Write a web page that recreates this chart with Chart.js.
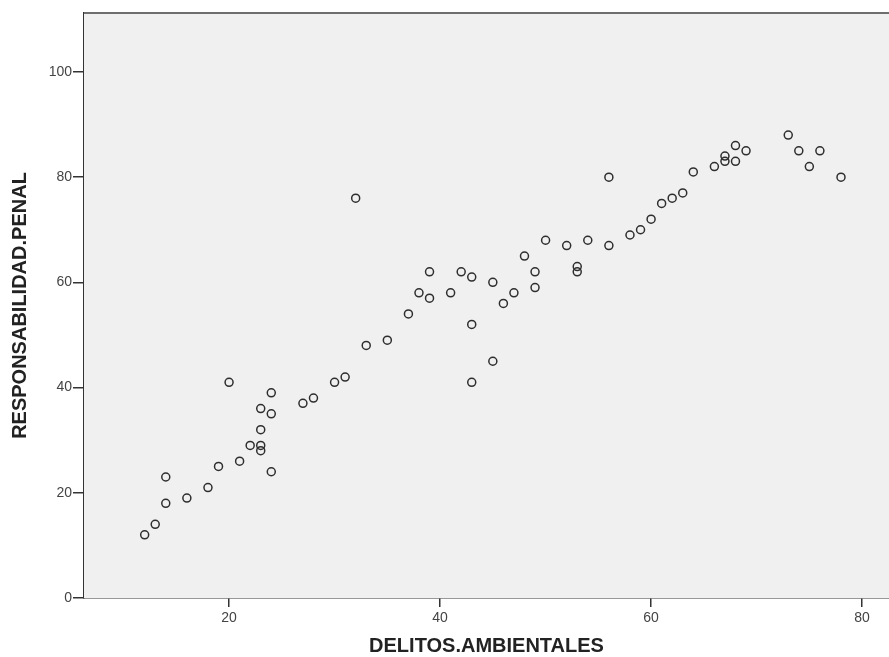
<!DOCTYPE html>
<html>
<head>
<meta charset="utf-8">
<script src="https://cdn.jsdelivr.net/npm/chart.js@4/dist/chart.umd.min.js"></script>
<style>
  html, body { margin: 0; padding: 0; background: #fff; overflow: hidden; }
  #wrap { width: 889px; height: 657px; }
</style>
</head>
<body>
<div id="wrap"><canvas id="grafico"></canvas></div>
<script>
// valores
const delitosAmbientales = [12, 13, 14, 14, 16, 18, 19, 20, 21, 22, 23, 23, 23, 23, 24, 24, 24, 27, 28, 30, 31, 32, 33, 35, 37, 38, 39, 39, 41, 42, 43, 43, 43, 45, 45, 46, 47, 48, 49, 49, 50, 52, 53, 53, 54, 56, 56, 58, 59, 60, 61, 62, 63, 64, 66, 67, 67, 68, 68, 69, 73, 74, 75, 76, 78];
const responsabilidadPenal = [12, 14, 18, 23, 19, 21, 25, 41, 26, 29, 29, 28, 32, 36, 35, 39, 24, 37, 38, 41, 42, 76, 48, 49, 54, 58, 62, 57, 58, 62, 61, 52, 41, 60, 45, 56, 58, 65, 62, 59, 68, 67, 63, 62, 68, 80, 67, 69, 70, 72, 75, 76, 77, 81, 82, 84, 83, 86, 83, 85, 88, 85, 82, 85, 80];
const xTicks = [20, 40, 60, 80];
const yTicks = [0, 20, 40, 60, 80, 100];

const puntos = delitosAmbientales.map((x, i) => ({ x: x, y: responsabilidadPenal[i] }));

// fondo gris del área y borde superior
const fondoPlot = {
    id: 'fondoPlot',
    beforeDatasetsDraw(chart) {
        const a = chart.chartArea;
        const ctx = chart.ctx;
        ctx.save();
        ctx.fillStyle = '#f0f0f0';
        ctx.fillRect(a.left, a.top, a.right - a.left, a.bottom - a.top);
        ctx.strokeStyle = '#6e6e6e';
        ctx.lineWidth = 2;
        ctx.beginPath();
        ctx.moveTo(a.left, a.top);
        ctx.lineTo(a.right, a.top);
        ctx.stroke();
        ctx.restore();
    }
};

const familia = 'Arial, "Liberation Sans", sans-serif';
const fuenteTicks = { family: familia, size: 14 };
const fuenteTitulo = { family: familia, size: 20, weight: 'bold', lineHeight: 1 };

new Chart(document.getElementById('grafico').getContext('2d'), {
    type: 'scatter',
    data: {
        datasets: [{
            label: 'RESPONSABILIDAD.PENAL',
            data: puntos,
            pointStyle: 'circle',
            pointRadius: 4,
            pointHoverRadius: 4,
            pointBorderWidth: 1.5,
            pointBorderColor: '#2e2e2e',
            pointBackgroundColor: 'rgba(0,0,0,0)'
        }]
    },
    options: {
        responsive: true,
        maintainAspectRatio: false,
        animation: false,
        layout: { autoPadding: false, padding: { top: 13, right: 0, left: 0, bottom: 0 } },
        plugins: { legend: { display: false }, tooltip: { enabled: false } },
        scales: {
            x: {
                type: 'linear',
                min: 6.25,
                max: 82.55,
                afterBuildTicks: s => { s.ticks = xTicks.map(v => ({ value: v })); },
                afterFit: s => { s.height = 59; s.paddingLeft = 0; s.paddingRight = 0; },
                grid: { drawOnChartArea: false, drawTicks: true, tickLength: 9, tickColor: '#333', lineWidth: 1.5 },
                border: { display: true, color: '#333', width: 1.5 },
                ticks: { color: '#444', font: fuenteTicks, padding: 3, maxRotation: 0 },
                title: {
                    display: true,
                    text: 'DELITOS.AMBIENTALES',
                    color: '#222',
                    font: fuenteTitulo,
                    padding: { top: 0, bottom: 1 }
                }
            },
            y: {
                type: 'linear',
                min: 0,
                max: 111.2,
                afterBuildTicks: s => { s.ticks = yTicks.map(v => ({ value: v })); },
                afterFit: s => { s.width = 84; s.paddingTop = 0; s.paddingBottom = 0; },
                grid: { drawOnChartArea: false, drawTicks: true, tickLength: 11, tickColor: '#333', lineWidth: 1.5 },
                border: { display: true, color: '#333', width: 1.5 },
                ticks: { color: '#444', font: fuenteTicks, padding: 1 },
                title: {
                    display: true,
                    text: 'RESPONSABILIDAD.PENAL',
                    color: '#222',
                    font: fuenteTitulo,
                    padding: { top: 10, bottom: 0 }
                }
            }
        }
    },
    plugins: [fondoPlot]
});
</script>
</body>
</html>
